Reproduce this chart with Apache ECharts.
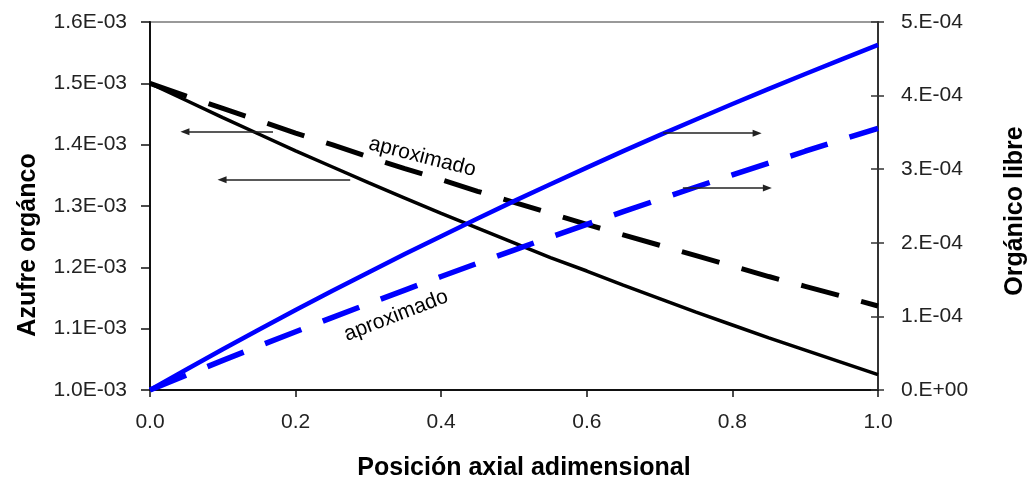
<!DOCTYPE html>
<html>
<head>
<meta charset="utf-8">
<script src="https://cdn.jsdelivr.net/npm/echarts@6/dist/echarts.min.js"></script>
<style>
  html, body { margin: 0; padding: 0; background: #fff; }
  #chart { width: 1036px; height: 490px; }
</style>
</head>
<body>
<div id="chart"></div>
<script>
// Axial position (dimensionless)
const position = [0.00, 0.05, 0.10, 0.15, 0.20, 0.25, 0.30, 0.35, 0.40, 0.45, 0.50,
                  0.55, 0.60, 0.65, 0.70, 0.75, 0.80, 0.85, 0.90, 0.95, 1.00];

// Organic sulphur, in units of 1E-03 (left axis)
const azufreExacto = [1.500, 1.472, 1.444, 1.417, 1.390, 1.364, 1.338, 1.313, 1.288, 1.264, 1.240,
                      1.216, 1.194, 1.171, 1.149, 1.127, 1.106, 1.085, 1.065, 1.045, 1.025];
const azufreAprox  = [1.500, 1.479, 1.459, 1.439, 1.419, 1.400, 1.380, 1.361, 1.343, 1.324, 1.306,
                      1.288, 1.270, 1.253, 1.236, 1.219, 1.202, 1.185, 1.169, 1.153, 1.137];

// Free organic, in units of 1E-04 (right axis)
const libreExacto = [0.000, 0.279, 0.553, 0.821, 1.086, 1.344, 1.597, 1.847, 2.090, 2.330, 2.566,
                     2.796, 3.022, 3.245, 3.463, 3.676, 3.886, 4.092, 4.293, 4.491, 4.688];
const libreAprox  = [0.000, 0.202, 0.402, 0.599, 0.792, 0.984, 1.172, 1.358, 1.542, 1.723, 1.901,
                     2.078, 2.251, 2.423, 2.591, 2.758, 2.922, 3.084, 3.244, 3.402, 3.556];

// Tick labels
const xTickLabels = ['0.0', '0.2', '0.4', '0.6', '0.8', '1.0'];
const leftTickLabels = ['1.0E-03', '1.1E-03', '1.2E-03', '1.3E-03', '1.4E-03', '1.5E-03', '1.6E-03'];
const rightTickLabels = ['0.E+00', '1.E-04', '2.E-04', '3.E-04', '4.E-04', '5.E-04'];

// Annotation arrows: [x from, x to, y] on each axis
const arrowsLeft = [[0.169, 0.048, 1.421], [0.275, 0.099, 1.343]];
const arrowsRight = [[0.705, 0.834, 3.49], [0.732, 0.848, 2.745]];
// Annotation labels: [x, y, text]
const notaAzufre = [0.374, 1.380, 'aproximado'];
const notaLibre = [0.338, 1.121, 'aproximado'];

const pairs = (xs, ys) => xs.map((x, i) => [x, ys[i]]);
const labelFont = { fontFamily: 'Liberation Sans, Arial, sans-serif', fontSize: 21, color: '#222' };

const chart = echarts.init(document.getElementById('chart'), null, { renderer: 'canvas' });

const arrowLine = list => ({
  silent: true,
  animation: false,
  symbol: ['none', 'triangle'],
  symbolSize: [7, 9],
  label: { show: false },
  lineStyle: { color: '#222', width: 1.5, type: 'solid' },
  emphasis: { disabled: true },
  data: list.map(a => [{ coord: [a[0], a[2]] }, { coord: [a[1], a[2]] }])
});

chart.setOption({
  animation: false,
  backgroundColor: '#fff',
  grid: { left: 150, right: 158, top: 22, bottom: 100, show: true, borderColor: '#999', borderWidth: 2, backgroundColor: 'transparent' },
  xAxis: {
    type: 'value', min: 0, max: 1, interval: 0.2,
    axisLine: { show: true, onZero: false, lineStyle: { color: '#111', width: 2 } },
    axisTick: { show: true, length: 7, lineStyle: { color: '#111', width: 1.5 } },
    axisLabel: Object.assign({ margin: 22, formatter: v => xTickLabels[Math.round(v / 0.2)] }, labelFont),
    splitLine: { show: false }
  },
  yAxis: [
    {
      type: 'value', position: 'left', min: 1.0, max: 1.6, interval: 0.1,
      axisLine: { show: true, lineStyle: { color: '#111', width: 2 } },
      axisTick: { show: true, length: 9, lineStyle: { color: '#111', width: 1.5 } },
      axisLabel: Object.assign({ margin: 23, formatter: v => leftTickLabels[Math.round((v - 1.0) / 0.1)] }, labelFont),
      splitLine: { show: false }
    },
    {
      type: 'value', position: 'right', min: 0, max: 5, interval: 1,
      axisLine: { show: true, lineStyle: { color: '#333', width: 2 } },
      axisTick: { show: true, length: 6, lineStyle: { color: '#333', width: 1.5 } },
      axisLabel: Object.assign({ margin: 23, formatter: v => rightTickLabels[Math.round(v)] }, labelFont),
      splitLine: { show: false }
    },
    {
      type: 'value', position: 'right', min: 0, max: 5, interval: 1,
      axisLine: { show: false },
      axisTick: { show: true, inside: true, length: 7, lineStyle: { color: '#333', width: 1.5 } },
      axisLabel: { show: false },
      splitLine: { show: false }
    }
  ],
  series: [
    {
      name: 'azufre', type: 'line', yAxisIndex: 0, showSymbol: false, symbol: 'none',
      data: pairs(position, azufreExacto),
      lineStyle: { color: '#000', width: 3.5 },
      markLine: arrowLine(arrowsLeft)
    },
    {
      name: 'azufre aproximado', type: 'line', yAxisIndex: 0, showSymbol: false, symbol: 'none',
      data: pairs(position, azufreAprox),
      lineStyle: { color: '#000', width: 5, type: [39, 23], cap: 'butt' }
    },
    {
      name: 'libre', type: 'line', yAxisIndex: 1, showSymbol: false, symbol: 'none',
      data: pairs(position, libreExacto),
      lineStyle: { color: '#0000ff', width: 4.5 },
      markLine: arrowLine(arrowsRight)
    },
    {
      name: 'libre aproximado', type: 'line', yAxisIndex: 1, showSymbol: false, symbol: 'none',
      data: pairs(position, libreAprox),
      lineStyle: { color: '#0000ff', width: 5.5, type: [39, 23], cap: 'butt' }
    }
  ]
});

// Rotated notes and axis titles
const p1 = chart.convertToPixel({ xAxisIndex: 0, yAxisIndex: 0 }, [notaAzufre[0], notaAzufre[1]]);
const p2 = chart.convertToPixel({ xAxisIndex: 0, yAxisIndex: 0 }, [notaLibre[0], notaLibre[1]]);
const noteStyle = txt => ({ text: txt, font: '21px "Liberation Sans", Arial, sans-serif', fill: '#000', align: 'center', verticalAlign: 'middle' });
const titleStyle = txt => ({ text: txt, font: 'bold 25px "Liberation Sans", Arial, sans-serif', fill: '#000', align: 'center', verticalAlign: 'middle' });

chart.setOption({
  graphic: [
    { type: 'text', x: p1[0], y: p1[1], rotation: -0.25, style: noteStyle(notaAzufre[2]), silent: true },
    { type: 'text', x: p2[0], y: p2[1], rotation: 0.37, style: noteStyle(notaLibre[2]), silent: true },
    { type: 'text', x: 28, y: 245, rotation: Math.PI / 2, style: titleStyle('Azufre orgánco'), silent: true },
    { type: 'text', x: 1015, y: 211, rotation: Math.PI / 2, style: titleStyle('Orgánico libre'), silent: true },
    { type: 'text', x: 524, y: 468, style: titleStyle('Posición axial adimensional'), silent: true }
  ]
});
</script>
</body>
</html>
